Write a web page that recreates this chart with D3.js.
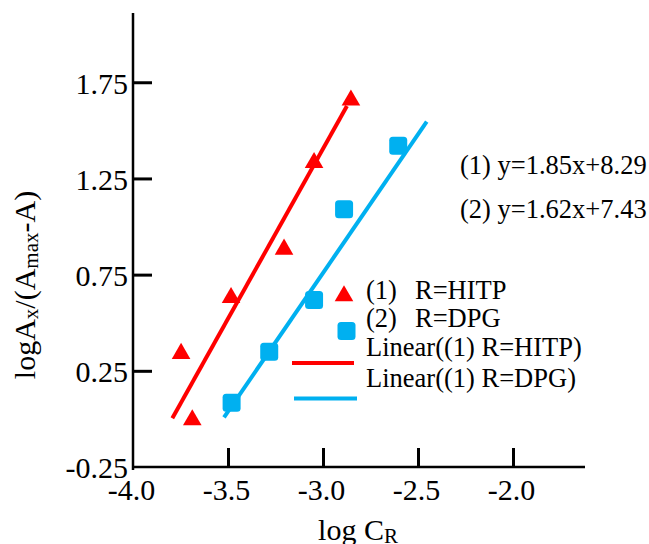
<!DOCTYPE html>
<html>
<head>
<meta charset="utf-8">
<script src="https://cdn.jsdelivr.net/npm/d3@7/dist/d3.min.js"></script>
<style>
  html, body { margin: 0; padding: 0; background: #fff; }
  svg { display: block; }
  text { font-family: "Liberation Serif", "Times New Roman", serif; fill: #000; }
</style>
</head>
<body>
<svg id="chart" width="649" height="544"></svg>
<script>
// ---- data ----
const xTicks = [-4.0, -3.5, -3.0, -2.5, -2.0];
const yTicks = [-0.25, 0.25, 0.75, 1.25, 1.75];

const hitpX = [-3.747, -3.688, -3.484, -3.205, -3.047, -2.853];
const hitpY = [0.345, 0.000, 0.635, 0.887, 1.337, 1.662];

const dpgX = [-3.481, -3.283, -3.047, -2.889, -2.604];
const dpgY = [0.084, 0.349, 0.618, 1.090, 1.420];

// fitted line endpoints as drawn
const fitHitpX = [-3.793, -2.874];
const fitHitpY = [0.003, 1.627];
const fitDpgX = [-3.521, -2.454];
const fitDpgY = [0.008, 1.545];

const equations = ["(1) y=1.85x+8.29", "(2) y=1.62x+7.43"];
const legendNums = ["(1)", "(2)"];
const legendNames = ["R=HITP", "R=DPG"];
const legendFits = ["Linear((1) R=HITP)", "Linear((1) R=DPG)"];

const RED = "#ff0000";
const BLUE = "#00b0f0";
const hy = s => s.replace("\u2212", "-");

// ---- chart ----
const svg = d3.select("#chart");
const x = d3.scaleLinear().domain([-4, -1.621]).range([133, 585]);
const y = d3.scaleLinear().domain([-0.25, 2.11]).range([467, 13]);

// axes
const xAxis = d3.axisBottom(x).tickValues(xTicks).tickFormat(d => hy(d3.format(".1f")(d)))
  .tickSizeInner(-19).tickSizeOuter(0).tickPadding(0);
const gx = svg.append("g").attr("transform", `translate(0,${y(-0.25)})`).call(xAxis);
gx.select(".domain").remove();
gx.selectAll(".tick line").attr("stroke", "#000").attr("stroke-width", 3);
gx.selectAll(".tick text").attr("font-size", 30).attr("dy", 0).attr("y", 33)
  .attr("dx", -2).attr("font-family", '"Liberation Serif", serif');
gx.selectAll(".tick").filter(d => d === -4).select("line").remove();

const yAxis = d3.axisLeft(y).tickValues(yTicks).tickFormat(d => hy(d3.format(".2f")(d)))
  .tickSizeInner(-19).tickSizeOuter(0).tickPadding(0);
const gy = svg.append("g").attr("transform", `translate(${x(-4)},0)`).call(yAxis);
gy.select(".domain").remove();
gy.selectAll(".tick line").attr("stroke", "#000").attr("stroke-width", 3);
gy.selectAll(".tick text").attr("font-size", 30).attr("x", -5).attr("dy", "0.36em")
  .attr("font-family", '"Liberation Serif", serif');
gy.selectAll(".tick").filter(d => d === -0.25).select("line").remove();

// axis lines
svg.append("line").attr("x1", x(-4)).attr("x2", x.range()[1])
  .attr("y1", y(-0.25)).attr("y2", y(-0.25)).attr("stroke", "#000").attr("stroke-width", 2.5);
svg.append("line").attr("x1", x(-4)).attr("x2", x(-4))
  .attr("y1", y.range()[1]).attr("y2", y(-0.25) + 3).attr("stroke", "#000").attr("stroke-width", 2.5);

// fit lines
const line = d3.line().x(d => x(d[0])).y(d => y(d[1]));
svg.append("path").attr("d", line(d3.zip(fitHitpX, fitHitpY)))
  .attr("stroke", RED).attr("stroke-width", 4).attr("fill", "none");
svg.append("path").attr("d", line(d3.zip(fitDpgX, fitDpgY)))
  .attr("stroke", BLUE).attr("stroke-width", 4).attr("fill", "none");

// markers
const tri = d3.symbol().type(d3.symbolTriangle).size(150);
svg.append("g").selectAll("path").data(d3.zip(hitpX, hitpY)).join("path")
  .attr("d", tri).attr("fill", RED)
  .attr("transform", d => `translate(${x(d[0])},${y(d[1]) + 1})`);

const S = 18;
svg.append("g").selectAll("rect").data(d3.zip(dpgX, dpgY)).join("rect")
  .attr("x", d => x(d[0]) - S / 2).attr("y", d => y(d[1]) - S / 2)
  .attr("width", S).attr("height", S).attr("rx", 3.5).attr("fill", BLUE);

// equations
svg.append("g").selectAll("text").data(equations).join("text")
  .attr("x", 460).attr("y", (d, i) => 174 + i * 44)
  .attr("font-size", 26.5).text(d => d);

// legend
const lg = svg.append("g");
lg.selectAll("text.num").data(legendNums).join("text").attr("class", "num")
  .attr("x", 366).attr("y", (d, i) => [299, 327][i]).attr("font-size", 26.5).text(d => d);
lg.selectAll("text.name").data(legendNames).join("text").attr("class", "name")
  .attr("x", 415).attr("y", (d, i) => [299, 327][i]).attr("font-size", 26.5).text(d => d);
lg.selectAll("text.fit").data(legendFits).join("text").attr("class", "fit")
  .attr("x", 366).attr("y", (d, i) => [356, 387][i]).attr("font-size", 26.5).text(d => d);
lg.append("path").attr("d", tri).attr("fill", RED).attr("transform", "translate(344,296)");
lg.append("rect").attr("x", 346.5 - S / 2).attr("y", 331 - S / 2).attr("width", S).attr("height", S)
  .attr("rx", 3.5).attr("fill", BLUE);
lg.append("line").attr("x1", 292).attr("x2", 354).attr("y1", 363).attr("y2", 363)
  .attr("stroke", RED).attr("stroke-width", 4);
lg.append("line").attr("x1", 294).attr("x2", 357).attr("y1", 398.5).attr("y2", 398.5)
  .attr("stroke", BLUE).attr("stroke-width", 4);

// x title
const xt = svg.append("text").attr("x", 358).attr("y", 540).attr("text-anchor", "middle").attr("font-size", 30);
xt.append("tspan").text("log C");
xt.append("tspan").attr("font-size", 21).attr("dy", 3).text("R");

// y title
const yt = svg.append("text").attr("transform", "translate(35,285) rotate(-90)")
  .attr("text-anchor", "middle").attr("font-size", 30);
yt.append("tspan").text("logA");
yt.append("tspan").attr("font-size", 21).attr("dy", 3).text("x");
yt.append("tspan").attr("dy", -3).text("/(A");
yt.append("tspan").attr("font-size", 21).attr("dy", 3).text("max");
yt.append("tspan").attr("dy", -3).text("-A)");
</script>
</body>
</html>
